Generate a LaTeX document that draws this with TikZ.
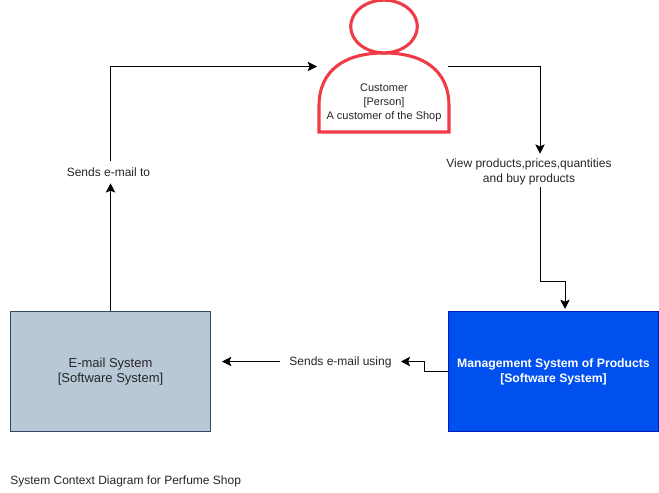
\documentclass[tikz,border=0pt]{standalone}
\usepackage{fontspec}
\setmainfont{Liberation Sans}
\usetikzlibrary{arrows.meta,shapes.geometric}
\definecolor{persred}{HTML}{EF3B45}
\definecolor{mailfill}{HTML}{B9C8D6}
\definecolor{mailline}{HTML}{2F4A62}
\definecolor{mgmtfill}{HTML}{0050EF}
\definecolor{mgmtline}{HTML}{001DBC}
\newcommand{\lowered}[2]{\raisebox{0pt}[\dimexpr\height+2\dimexpr#1\relax\relax]{\begin{tabular}{@{}c@{}}#2\end{tabular}}}
\tikzset{
  pxbox/.style={draw,line width=0.75pt,minimum height=90pt,align=center,inner sep=0pt},
  edgelabel/.style={align=center,inner sep=0pt,font=\fontsize{9}{11.25}\selectfont,text=black!85},
  conn/.style={draw=black,line width=0.75pt,-{Stealth[length=7pt,width=7pt,inset=1.5pt]}},
  persline/.style={draw=persred,line width=2.3pt}
}
\begin{document}
\begin{tikzpicture}[x=0.75pt,y=-0.75pt]
\useasboundingbox (0,0) rectangle (659,492);
\fill[white] (0,0) rectangle (659,492);
% person
\path[persline,fill=white] (319,132) -- (319,106) .. controls (319,70) and (345,53) .. (384,53) .. controls (423,53) and (449,70) .. (449,106) -- (449,132) -- cycle;
\node[persline,fill=white,ellipse,minimum width=50pt,minimum height=39.5pt,inner sep=0pt] (head) at (384,26.5) {};
\node[align=center,inner sep=0pt,font=\fontsize{8.25}{10.6}\selectfont,text=black!85] (customer) at (384,102.5) {Customer\\{}[Person]\\A customer of the Shop};
\coordinate (custL) at (317,66.5);
\coordinate (custR) at (448,66.5);
\node[pxbox,minimum width=150pt,draw=mailline,fill=mailfill,text=black!85,font=\fontsize{9.75}{11.25}\selectfont] (mail) at (110.5,371.5) {\lowered{0.6pt}{E-mail System\\{}[Software System]}};
\node[pxbox,minimum width=157.5pt,draw=mgmtline,fill=mgmtfill,text=white,font=\fontsize{9.15}{11.25}\selectfont\bfseries] (mgmt) at (553.5,371.5) {\lowered{0.6pt}{Management System of Products\\{}[Software System]}};
\node[edgelabel,minimum width=90pt,minimum height=16.5pt] (lbl1) at (108.5,172) {Sends e-mail to};
\node[edgelabel,minimum width=124pt,minimum height=24.75pt] (lbl2) at (529,170.5) {\lowered{1pt}{View products,prices,quantities\\and buy products}};
\node[edgelabel,minimum width=90pt,minimum height=16.5pt] (lbl3) at (340.5,361.5) {\lowered{0.8pt}{Sends e-mail using}};
\node[anchor=west,inner sep=0pt,font=\fontsize{9}{10.5}\selectfont,text=black!85] (title) at (10,481) {System Context Diagram for Perfume Shop};
\draw[conn] (mail.north) -- (mail.north |- lbl1.south);
\draw[conn] (mail.north |- lbl1.north) |- (custL);
\draw[conn] (custR) -| (540,0 |- lbl2.north);
\draw[conn] (540,0 |- lbl2.south) |- (565,281) -- (565,309);
\draw[conn] (mgmt.west) -- (424,371.5) |- (lbl3.east);
\draw[conn] (lbl3.west) -- (222,361.5);
\end{tikzpicture}
\end{document}
